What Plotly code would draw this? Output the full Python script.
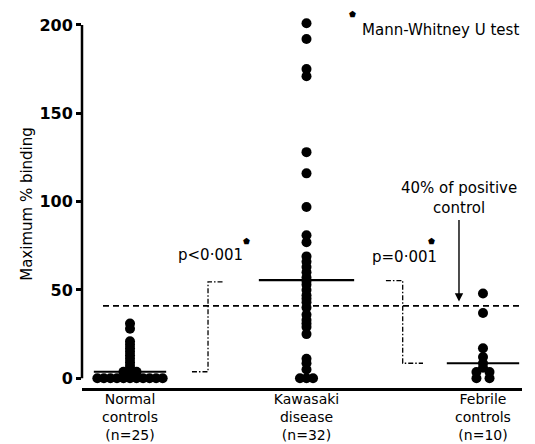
import plotly.graph_objects as go

# ---- data ----
categories = ["Normal<br>controls<br>(n=25)", "Kawasaki<br>disease<br>(n=32)", "Febrile<br>controls<br>(n=10)"]
normal = [0, 0, 0, 0, 0, 0, 0, 0, 0, 0, 0, 3.7, 3.7, 3.7,
          5, 7, 9, 11, 13, 15, 17, 19, 21, 28, 31]
kawasaki = [201, 192, 175, 171, 128, 116, 97, 81, 77, 69, 66, 63, 60, 57, 55, 53,
            50, 47, 45, 43, 40, 36, 33, 31, 29, 25, 11, 8.5, 5, 0, 0, 0]
febrile = [48, 37, 17, 12, 8.5, 6, 3.5, 3.5, 0, 0]
medians = [3.7, 55.6, 8.5]
threshold = 41          # 40% of positive control
y_ticks = [0, 50, 100, 150, 200]
p_labels = ["p<0·001", "p=0·001"]

groups = [normal, kawasaki, febrile]

FONT = "DejaVu Sans"
SLOT = 0.037           # horizontal spacing of tied values (x units)


def tie_offsets(vals):
    counts = {}
    for v in vals:
        counts[v] = counts.get(v, 0) + 1
    seen = {}
    out = []
    for v in vals:
        k = counts[v]
        i = seen.get(v, 0)
        seen[v] = i + 1
        if k % 2:
            j = (i + 1) // 2
            s = -1 if i % 2 else 1
        else:
            j = i // 2 + 1
            s = -1 if i % 2 == 0 else 1
        out.append(s * j * SLOT)
    return out


fig = go.Figure()

# dots
for gi, vals in enumerate(groups):
    offs = tie_offsets(vals)
    fig.add_trace(go.Scatter(
        x=[gi + o for o in offs], y=vals, mode="markers",
        marker=dict(size=10, color="black", line=dict(width=0)),
        cliponaxis=False, hoverinfo="skip"))

# median bars
half_w = [0.205, 0.27, 0.205]
for gi, m in enumerate(medians):
    fig.add_trace(go.Scatter(
        x=[gi - half_w[gi], gi + half_w[gi]], y=[m, m], mode="lines",
        line=dict(color="black", width=2.2 if gi else 1.8),
        hoverinfo="skip"))

# threshold dashed line
fig.add_trace(go.Scatter(
    x=[-0.153, 2.221], y=[threshold, threshold], mode="lines",
    line=dict(color="black", width=1.8, dash="6px,4px"), hoverinfo="skip"))

# comparison steps (dash-dot)
steps = [([0.351, 0.442, 0.442, 0.527], [medians[0], medians[0], medians[1] - 1, medians[1] - 1]),
         ([1.450, 1.545, 1.545, 1.660], [medians[1] - 0.3, medians[1] - 0.3, medians[2], medians[2]])]
for xs, ys in steps:
    fig.add_trace(go.Scatter(
        x=xs, y=ys, mode="lines",
        line=dict(color="black", width=1.3, dash="5px,2px,1.5px,2px"),
        hoverinfo="skip"))

# y-axis line from 0 to 200
fig.add_shape(type="line", xref="paper", x0=0, x1=0, yref="y",
              y0=y_ticks[0], y1=y_ticks[-1], line=dict(color="black", width=2.5))

tf = dict(family=FONT, size=15, color="black")
star = dict(family=FONT, size=8, color="black")
ann = [
    dict(x=1.303, y=197.1, text="Mann-Whitney U test", xanchor="left", yanchor="middle", font=tf),
    dict(x=0.261, y=69.8, text=p_labels[0], xanchor="left", yanchor="middle", font=tf),
    dict(x=0.661, y=77.7, text="⬟", xanchor="center", yanchor="middle", font=star),
    dict(x=1.360, y=68.8, text=p_labels[1], xanchor="left", yanchor="middle", font=tf),
    dict(x=1.709, y=77.3, text="⬟", xanchor="center", yanchor="middle", font=star),
    dict(x=1.864, y=102.3, text="40% of positive<br>control", xanchor="center", yanchor="middle", font=tf),
]
for a in ann:
    a.update(xref="x", yref="y", showarrow=False)
    fig.add_annotation(**a)

# star for the Mann-Whitney note (above the plot area)
fig.add_annotation(x=1.258, y=1.0136, xref="x", yref="paper", text="⬟", showarrow=False,
                   xanchor="center", yanchor="middle", font=star)

fig.add_annotation(x=1.864, y=43.4, ax=1.864, ay=90.5, xref="x", yref="y",
                   axref="x", ayref="y", text="", showarrow=True,
                   arrowhead=2, arrowsize=1.2, arrowwidth=1.4, arrowcolor="black")

fig.update_layout(
    width=527, height=436,
    margin=dict(l=74, r=13, t=12, b=56),
    paper_bgcolor="white", plot_bgcolor="white",
    showlegend=False,
    xaxis=dict(range=[-0.272, 2.221], tickvals=[0, 1, 2], ticktext=categories,
               showline=True, linecolor="black", linewidth=2.5, ticks="",
               showgrid=False, zeroline=False, automargin=False,
               ticklabelstandoff=-4,
               tickfont=dict(family=FONT, size=14, color="black")),
    yaxis=dict(range=[-5.5, 202.8], tickvals=y_ticks, showline=False,
               ticks="outside", ticklen=5, tickwidth=2.5, tickcolor="black",
               showgrid=False, zeroline=False, automargin=False,
               tickfont=dict(family=FONT, size=16, color="black", weight="bold"),
               title=dict(text="Maximum % binding", font=dict(family=FONT, size=15, color="black"),
                          standoff=3)),
)

fig.write_html("out.html")
